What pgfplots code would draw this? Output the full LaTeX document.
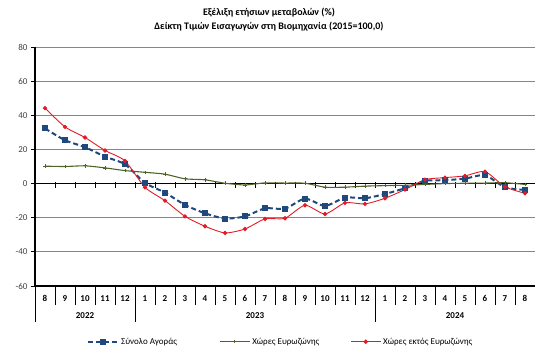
\documentclass[border=0pt]{standalone}
\usepackage{pgfplots}
\pgfplotsset{compat=1.18}
\usepackage{fontspec}
\setmainfont{Carlito}
\definecolor{cblue}{RGB}{31,73,125}
\definecolor{cgreen}{RGB}{79,98,40}
\definecolor{cred}{RGB}{226,28,38}
\definecolor{cgrid}{RGB}{134,134,134}
\begin{document}
\begin{tikzpicture}
\path[use as bounding box] (0,0) rectangle (535pt,-354pt);
\node[font=\bfseries\fontsize{10}{14}\selectfont, align=center] at (269pt,-20pt) {Εξέλιξη ετήσιων μεταβολών (\%)\\Δείκτη Τιμών Εισαγωγών στη Βιομηχανία (2015=100,0)};
\begin{axis}[
  at={(35pt,-286pt)}, anchor=south west,
  width=500pt, height=239pt, scale only axis,
  xmin=-0.5, xmax=24.5, ymin=-60, ymax=80,
  axis y line*=left, axis x line=none,
  axis line style={-},
  y axis line style={line width=1.4pt, black, -},
  ytick={-60,-40,...,80},
  ymajorgrids, grid style={cgrid, line width=0.9pt},
  tick align=outside, major tick length=4pt,
  ytick style={black, line width=0.8pt},
  yticklabel style={font=\fontsize{9}{10}\selectfont, text=black!75},
  /pgf/number format/assume math mode=true,
  clip=false,
  legend columns=3,
  legend style={at={(0.104,-0.233)}, anchor=west, draw=none, inner sep=0pt,
    font=\fontsize{9}{10}\selectfont, column sep=0pt, nodes={inner sep=2pt}},
  legend image code/.code={\draw[mark repeat=2,mark phase=2,#1] plot coordinates {(0pt,0pt) (15pt,0pt) (30pt,0pt)};},
]
% zero line and bottom line
\draw[black, line width=1.4pt] (axis cs:-0.5,0) -- (axis cs:24.5,0);
\draw[black, line width=1.4pt] (axis cs:-0.5,-60) -- (axis cs:24.5,-60);
\pgfplotsinvokeforeach{0.5,1.5,...,23.5}{
  \draw[black, line width=0.8pt] (axis cs:#1,1) -- (axis cs:#1,-2.6);
  \draw[black, line width=0.8pt] (axis cs:#1,-60) -- (axis cs:#1,-70.9);
}
\draw[black, line width=0.8pt] (axis cs:-0.5,-60) -- (axis cs:-0.5,-81.1);
\draw[black, line width=0.8pt] (axis cs:4.5,-60) -- (axis cs:4.5,-81.1);
\draw[black, line width=0.8pt] (axis cs:16.5,-60) -- (axis cs:16.5,-81.1);

\addplot[cblue, line width=2pt, dash pattern=on 5pt off 3pt, smooth, tension=0.4, mark=square*, mark size=2pt, mark options={solid}] coordinates {
(0,32.3) (1,25.4) (2,21.3) (3,15.8) (4,11.3) (5,0.4) (6,-5.3) (7,-12.5) (8,-17.4) (9,-20.5) (10,-19.2) (11,-14.5) (12,-14.7) (13,-8.8) (14,-13.1) (15,-8.2) (16,-8.6) (17,-6.1) (18,-2.7) (19,1.6) (20,2.0) (21,2.9) (22,4.9) (23,-2.2) (24,-3.7)};
\addlegendentry{\makebox[96pt][l]{Σύνολο Αγοράς}}
\addplot[cgreen, line width=1.1pt, smooth, tension=0.4, mark=+, mark size=1.8pt, mark options={solid, line width=0.7pt}] coordinates {
(0,10.2) (1,10.0) (2,10.4) (3,9.2) (4,7.6) (5,6.6) (6,5.5) (7,2.8) (8,2.2) (9,0.2) (10,-0.8) (11,0.4) (12,0.3) (13,0.2) (14,-2.1) (15,-2.1) (16,-1.5) (17,-1.2) (18,-1.0) (19,-0.5) (20,0.0) (21,0.2) (22,0.3) (23,0.5) (24,-0.5)};
\addlegendentry{\makebox[96pt][l]{Χώρες Ευρωζώνης}}
\addplot[cred, line width=0.9pt, smooth, tension=0.4, mark=*, mark size=1.7pt] coordinates {
(0,44.2) (1,33.2) (2,27.0) (3,19.4) (4,13.3) (5,-2.2) (6,-10.0) (7,-19.2) (8,-25.0) (9,-28.9) (10,-26.6) (11,-20.7) (12,-20.3) (13,-12.7) (14,-17.8) (15,-11.3) (16,-11.9) (17,-8.6) (18,-3.5) (19,2.3) (20,3.5) (21,4.5) (22,7.0) (23,-1.9) (24,-5.7)};
\addlegendentry{Χώρες εκτός Ευρωζώνης}

\begin{scope}[every node/.style={font=\bfseries\fontsize{9}{10}\selectfont, anchor=center}]
\node at (axis cs:0,-67.4) {8};
\node at (axis cs:1,-67.4) {9};
\node at (axis cs:2,-67.4) {10};
\node at (axis cs:3,-67.4) {11};
\node at (axis cs:4,-67.4) {12};
\node at (axis cs:5,-67.4) {1};
\node at (axis cs:6,-67.4) {2};
\node at (axis cs:7,-67.4) {3};
\node at (axis cs:8,-67.4) {4};
\node at (axis cs:9,-67.4) {5};
\node at (axis cs:10,-67.4) {6};
\node at (axis cs:11,-67.4) {7};
\node at (axis cs:12,-67.4) {8};
\node at (axis cs:13,-67.4) {9};
\node at (axis cs:14,-67.4) {10};
\node at (axis cs:15,-67.4) {11};
\node at (axis cs:16,-67.4) {12};
\node at (axis cs:17,-67.4) {1};
\node at (axis cs:18,-67.4) {2};
\node at (axis cs:19,-67.4) {3};
\node at (axis cs:20,-67.4) {4};
\node at (axis cs:21,-67.4) {5};
\node at (axis cs:22,-67.4) {6};
\node at (axis cs:23,-67.4) {7};
\node at (axis cs:24,-67.4) {8};
\node at (axis cs:2,-77.6) {2022};
\node at (axis cs:10.5,-77.6) {2023};
\node at (axis cs:20.5,-77.6) {2024};
\end{scope}
\end{axis}
\end{tikzpicture}
\end{document}
